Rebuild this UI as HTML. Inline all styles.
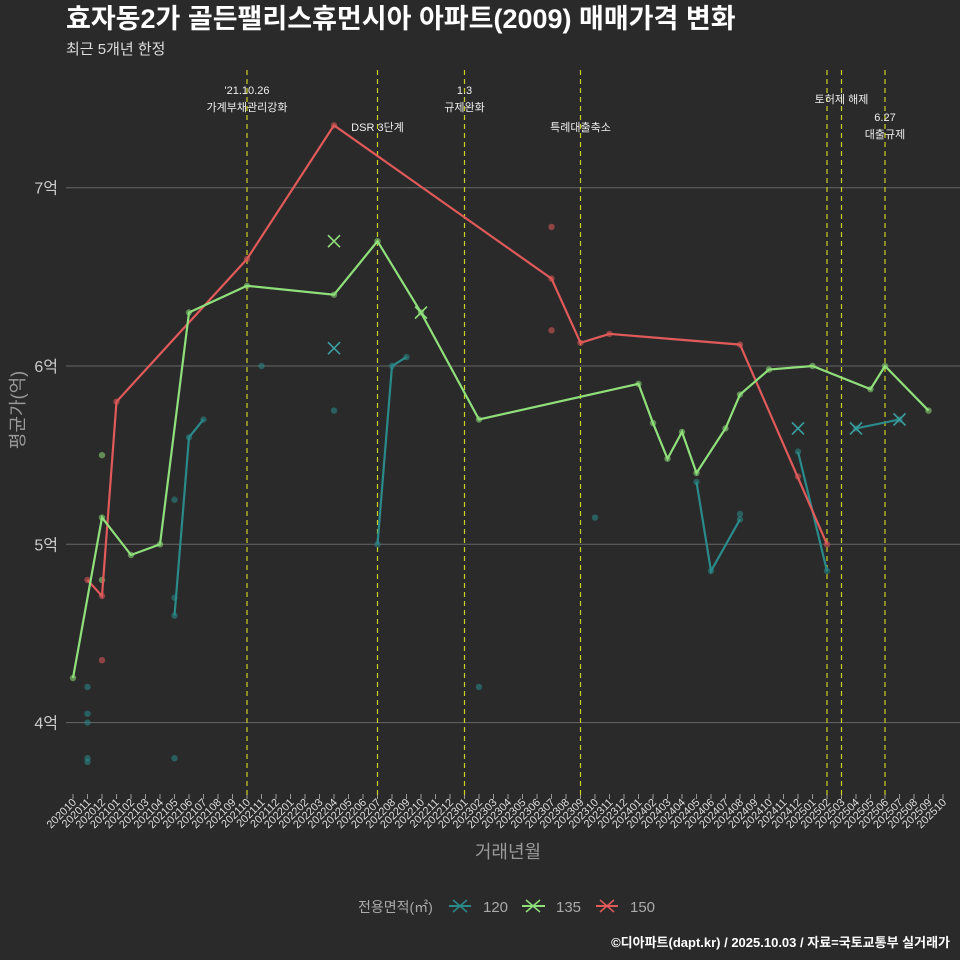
<!DOCTYPE html>
<html><head><meta charset="utf-8">
<style>
body{margin:0;background:#2b2a2b;}
svg{display:block;font-family:"Liberation Sans","Noto Sans CJK KR",sans-serif;}
</style></head><body>
<svg id="c" width="960" height="960" viewBox="0 0 960 960">
<rect width="960" height="960" fill="#2b2a2b"/>
<text x="66" y="28" fill="#fff" font-size="27" font-weight="bold">효자동2가 골든팰리스휴먼시아 아파트(2009) 매매가격 변화</text>
<text x="66" y="54" fill="#ddd" font-size="15">최근 5개년 한정</text>
<g id="grid"></g>
<g id="xaxis"></g>
<g id="vlines"></g>
<g id="series"></g>
<text x="508" y="858" fill="#999" font-size="18" text-anchor="middle">거래년월</text>
<text transform="translate(24,410) rotate(-90)" fill="#999" font-size="18" text-anchor="middle">평균가(억)</text>
<g>
<text x="358" y="912" fill="#aaa" font-size="14">전용면적(㎡)</text>
<g><line x1="449" y1="906" x2="471" y2="906" stroke="#2a8a8a" stroke-width="2"/><path d="M453 900L467 912M467 900L453 912" stroke="#2a8a8a" stroke-width="1.5"/><text x="483" y="912" fill="#aaa" font-size="15">120</text></g>
<g><line x1="522" y1="906" x2="545" y2="906" stroke="#8fe07a" stroke-width="2"/><path d="M526 900L540 912M540 900L526 912" stroke="#8fe07a" stroke-width="1.5"/><text x="556" y="912" fill="#aaa" font-size="15">135</text></g>
<g><line x1="596" y1="906" x2="618" y2="906" stroke="#e05a5a" stroke-width="2"/><path d="M600 900L614 912M614 900L600 912" stroke="#e05a5a" stroke-width="1.5"/><text x="630" y="912" fill="#aaa" font-size="15">150</text></g>
</g>
<text x="950" y="947" fill="#fff" font-size="13" font-weight="bold" text-anchor="end">©디아파트(dapt.kr) / 2025.10.03 / 자료=국토교통부 실거래가</text>
</svg>
<script>
const months=[];for(let y=2020;y<=2025;y++)for(let m=1;m<=12;m++){const k=y*100+m;if(k>=202010&&k<=202510)months.push(String(k));}
const yTicks=[4,5,6,7];
const s150Months=['202011','202012','202101','202110','202204','202307','202309','202311','202408','202502'];
const s150Vals=[4.8,4.71,5.8,6.6,7.35,6.49,6.13,6.18,6.12,5.0];
const s135Months=['202010','202012','202102','202104','202106','202110','202204','202207','202210','202302','202401','202402','202403','202404','202405','202407','202408','202410','202501','202505','202506','202509'];
const s135Vals=[4.25,5.15,4.94,5.0,6.3,6.45,6.4,6.7,6.3,5.7,5.9,5.68,5.48,5.63,5.4,5.65,5.84,5.98,6.0,5.87,6.0,5.75];
const s120Segments=[[['202105',4.6],['202106',5.6],['202107',5.7]],[['202207',5.0],['202208',6.0],['202209',6.05]],[['202405',5.35],['202406',4.85],['202408',5.14]],[['202412',5.52],['202502',4.85]],[['202504',5.65],['202507',5.7]]];
const s120Extra=[['202011',4.2],['202011',4.05],['202011',4.0],['202011',3.8],['202011',3.78],['202105',5.25],['202105',4.7],['202105',3.8],['202111',6.0],['202204',5.75],['202302',4.2],['202310',5.15],['202408',5.17]];
const s135Extra=[['202012',5.5],['202012',4.8]];
const s150Extra=[['202012',4.35],['202307',6.78],['202307',6.2],['202412',5.38]];
const crosses=[['135','202204',6.7],['120','202204',6.1],['135','202210',6.3],['120','202412',5.65],['120','202504',5.65],['120','202507',5.7]];
const events=[['202110',["'21.10.26","가계부채관리강화"],90],['202207',["DSR 3단계"],127],['202301',["1.3","규제완화"],90],['202309',["특례대출축소"],127],['202502',[],0],['202503',["토허제 해제"],99],['202506',["6.27","대출규제"],117]];
const col={'120':'#2a8a8a','135':'#8fe07a','150':'#e05a5a'};
const x=m=>73+14.5*months.indexOf(m);
const y=v=>366-(v-6)*178.3;
const NS='http://www.w3.org/2000/svg';
function mk(t,p,a){const e=document.createElementNS(NS,t);for(const k in a)e.setAttribute(k,a[k]);p.appendChild(e);return e;}
const grid=document.getElementById('grid');
yTicks.forEach(v=>{
 const l=mk('line',grid,{x1:66,x2:960,y1:y(v),y2:y(v),stroke:'#666','stroke-width':1});
 
 
 const t=mk('text',grid,{x:58,y:y(v)+6,fill:'#ccc','font-size':16,'text-anchor':'end'});t.textContent=v+'억';
 
 
});
const xa=document.getElementById('xaxis');
months.forEach(m=>{
 const tk=mk('line',xa,{x1:x(m),x2:x(m),y1:794,y2:799,stroke:'#999'});
 
 
 const t=mk('text',xa,{transform:`translate(${x(m)+4},803) rotate(-45)`,fill:'#ddd','font-size':11,'text-anchor':'end'});t.textContent=m;
 
 
});
const vl=document.getElementById('vlines');
events.forEach(ev=>{
 const l=mk('line',vl,{x1:x(ev[0]),x2:x(ev[0]),y1:70,y2:799,stroke:'#c8d020','stroke-width':1.2,'stroke-dasharray':'5,4'});
 
 
 ev[1].forEach((s,i)=>{const t=mk('text',vl,{x:x(ev[0]),y:ev[2]+i*17+4,fill:'#eee','font-size':11,'text-anchor':'middle'});t.textContent=s;
 
 });
});
const sg=document.getElementById('series');
function dots(arr,c,name){arr.forEach(p=>{const d=mk('circle',sg,{cx:x(p[0]),cy:y(p[1]),r:3.2,fill:c,'fill-opacity':0.55});
 
 });}
function line(pts,c,name){const pl=mk('polyline',sg,{points:pts.map(p=>x(p[0])+','+y(p[1])).join(' '),fill:'none',stroke:c,'stroke-width':2.2});
 
 
 dots(pts,c,name+'-point');}
dots(s120Extra,col['120'],'point-120');
dots(s135Extra,col['135'],'point-135');
dots(s150Extra,col['150'],'point-150');
s120Segments.forEach(sgm=>line(sgm,col['120'],'line-120'));
line(s150Months.map((m,i)=>[m,s150Vals[i]]),col['150'],'line-150');
line(s135Months.map((m,i)=>[m,s135Vals[i]]),col['135'],'line-135');
crosses.forEach(c=>{const cx=x(c[1]),cy=y(c[2]);
 const p=mk('path',sg,{d:`M${cx-6} ${cy-6}L${cx+6} ${cy+6}M${cx+6} ${cy-6}L${cx-6} ${cy+6}`,stroke:c[0]==='120'?'#3aa0a0':col[c[0]],'stroke-width':1.6});
 
 });
</script>
</body></html>
